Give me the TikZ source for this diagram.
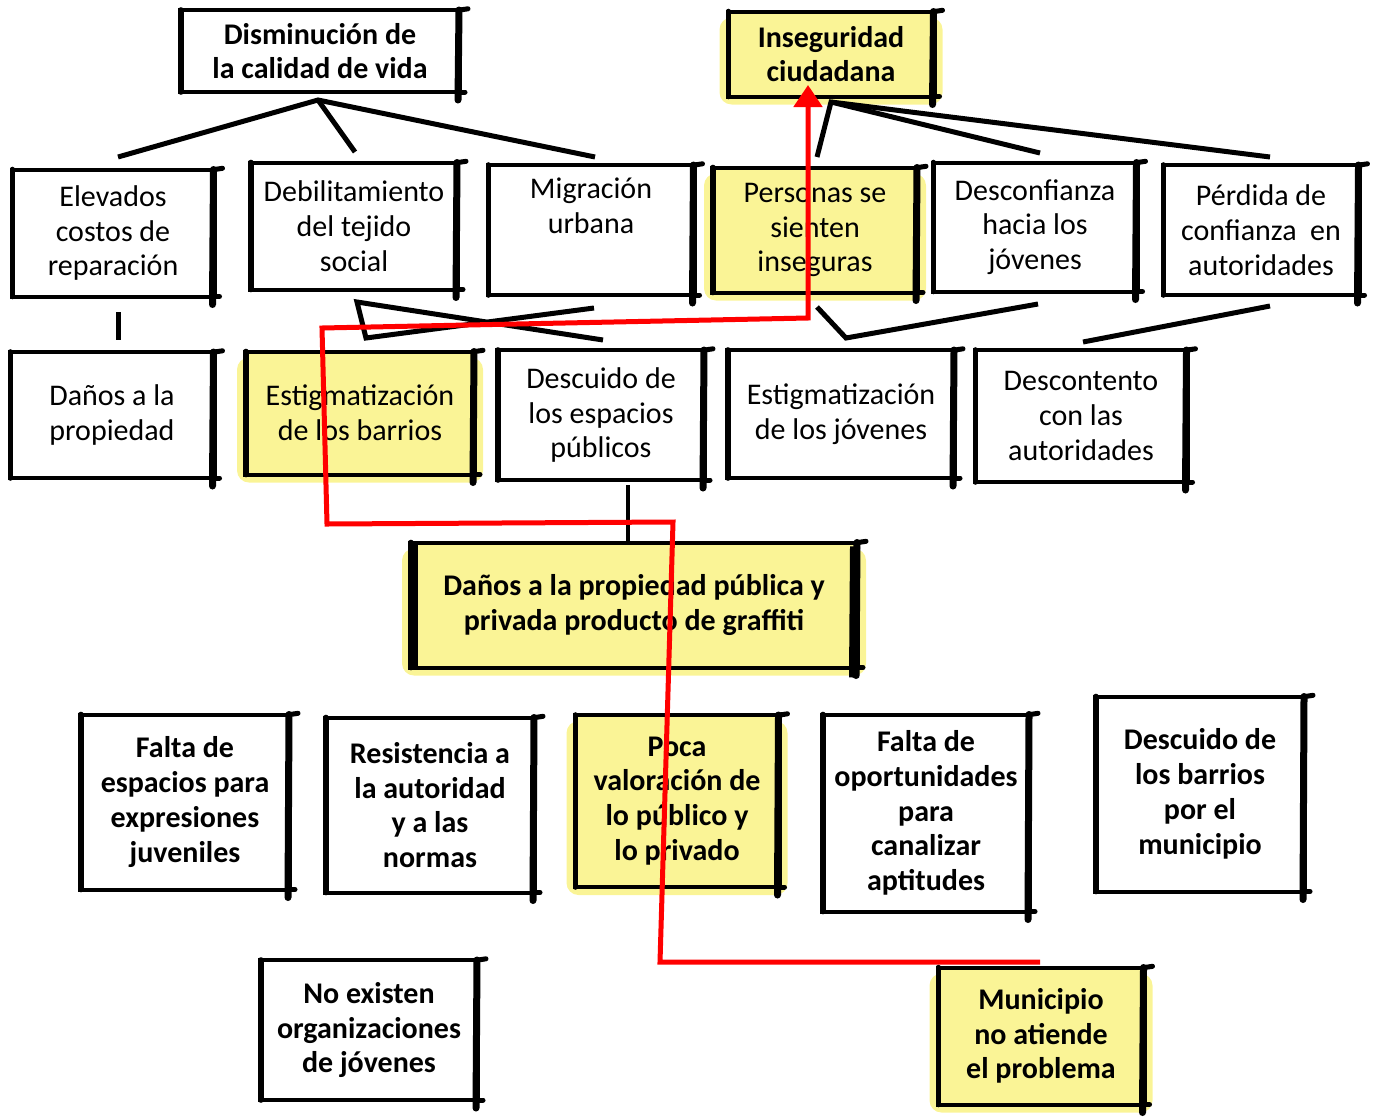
\documentclass[tikz,border=0pt]{standalone}
\usepackage{fontspec}
\setmainfont{Carlito}
\usetikzlibrary{arrows.meta,backgrounds}
\definecolor{hlyellow}{RGB}{250,244,150}
\definecolor{redpath}{RGB}{255,0,0}

\begin{document}
\begin{tikzpicture}[x=0.5pt,y=-0.5pt,>=Latex]
  \tikzstyle{box}=[draw,line width=2pt,align=center,inner sep=0pt,outer sep=0pt,font=\fontsize{15}{17.4}\selectfont]
  \tikzstyle{boldbox}=[box,font=\fontsize{15}{17.4}\selectfont\bfseries]
  \tikzset{boxsize/.style 2 args={minimum width=#1*0.5pt,minimum height=#2*0.5pt}}
  \tikzstyle{marked}=[fill=hlyellow]
  \tikzstyle{link}=[line width=2.5pt]
  \tikzstyle{route}=[draw=redpath,line width=2.5pt]
  \useasboundingbox (0,0) rectangle (1384,1119);
  % top effects
  \node[boldbox,boxsize={280}{82}] (dism) at (320,51) {Disminución de\\la calidad de vida};
  \node[boldbox,marked,boxsize={207}{85}] (inseg) at (831,54) {Inseguridad\\ciudadana};
  % second row
  \node[box,boxsize={203}{127}] (elev) at (113,233) {Elevados\\costos de\\reparación};
  \node[box,boxsize={208}{127}] (debil) at (354,226) {Debilitamiento\\del tejido\\social};
  \node[box,boxsize={207}{130}] (migra) at (591,230) {Migración\\urbana\\[7pt]\mbox{}};
  \node[box,marked,boxsize={206}{125}] (perso) at (815,230) {Personas se\\sienten\\inseguras};
  \node[box,boxsize={205}{129}] (desco) at (1035,227) {Desconfianza\\hacia los\\jóvenes};
  \node[box,boxsize={197}{130}] (perdi) at (1261,230) {Pérdida de\\confianza~ en\\autoridades};
  % third row
  \node[box,boxsize={205}{126}] (danos) at (112,415) {Daños a la\\propiedad};
  \node[box,marked,boxsize={230}{123}] (estb) at (360,413) {Estigmatización\\de los barrios};
  \node[box,boxsize={208}{130}] (descu) at (601,415) {Descuido de\\los espacios\\públicos};
  \node[box,boxsize={228}{128}] (estj) at (841,414) {Estigmatización\\de los jóvenes};
  \node[box,boxsize={213}{132}] (desct) at (1081,416) {Descontento\\con las\\autoridades};
  % central problem
  \node[boldbox,marked,boxsize={448}{125}] (graf) at (634,605) {Daños a la propiedad pública y\\privada producto de graffiti};
  % causes
  \node[boldbox,boxsize={210}{175}] (fesp) at (185,802) {Falta de\\espacios para\\expresiones\\juveniles};
  \node[boldbox,boxsize={210}{175}] (resi) at (430,805) {Resistencia a\\la autoridad\\y a las\\normas};
  \node[boldbox,marked,boxsize={205}{172}] (poca) at (677,801) {Poca\\valoración de\\lo público y\\lo privado};
  \node[boldbox,boxsize={208}{197}] (fopo) at (926,813) {Falta de\\oportunidades\\para\\canalizar\\aptitudes};
  \node[boldbox,boxsize={210}{195}] (dbar) at (1200,794) {Descuido de\\los barrios\\por el\\municipio};
  \node[boldbox,boxsize={218}{140}] (noex) at (369,1030) {No existen\\organizaciones\\de jóvenes};
  \node[boldbox,marked,boxsize={207}{137}] (muni) at (1041,1036) {Municipio\\no atiende\\el problema};

  % highlighter marks behind the yellow boxes
  \begin{scope}[on background layer]
    \foreach \n in {inseg,perso,estb,graf,poca,muni}
      \fill[hlyellow,rounded corners=6pt] ([xshift=-4pt,yshift=-3pt]\n.north west) rectangle ([xshift=4pt,yshift=-4pt]\n.south east);
  \end{scope}

  % sketchy strokes on the box edges
  \foreach \n in {dism,inseg,elev,debil,migra,perso,desco,perdi,danos,estb,descu,estj,desct,graf,fesp,resi,poca,fopo,dbar,noex,muni} {
    \draw[line width=3.5pt,line cap=round] ([xshift=-0.5pt]\n.north east) -- ([xshift=-1pt,yshift=-4pt]\n.south east);
    \draw[line width=2.8pt,line cap=round] ([xshift=0.4pt]\n.north west) -- ([xshift=0.4pt]\n.south west);
    \draw[line width=2.5pt,line cap=round] (\n.north east) -- ++(4pt,0.6pt);
    \draw[line width=2.5pt,line cap=round] (\n.south east) -- ++(2.5pt,0);
  }
  \draw[line width=5pt] ([xshift=1.5pt]graf.north west) -- ([xshift=1.5pt]graf.south west);
  \draw[line width=5pt] ([xshift=-1.5pt,yshift=-2pt]graf.north east) -- ([xshift=-2pt,yshift=-5pt]graf.south east);

  % connectors
  \coordinate (dhub) at (318,100);
  \coordinate (d1) at (118,157);
  \coordinate (d2) at (355,152);
  \coordinate (d3) at (595,157);
  \draw[link] (d1) -- (dhub) -- (d3);
  \draw[link] (dhub) -- (d2);
  \coordinate (ihub) at (831,102);
  \coordinate (i1) at (817,157);
  \coordinate (i2) at (1040,153);
  \coordinate (i3) at (1270,157);
  \draw[link] (i1) -- (ihub) -- (i3);
  \draw[link] (ihub) -- (i2);
  \coordinate (e1) at (118,312);
  \coordinate (e2) at (118,340);
  \draw[link] (e1) -- (e2);
  \coordinate (b1) at (357,302);
  \coordinate (b2) at (603,340);
  \coordinate (b3) at (366,338);
  \coordinate (b4) at (594,308);
  \draw[link] (b2) -- (b1) -- (b3) -- (b4);
  \coordinate (p1) at (817,307);
  \coordinate (p2) at (846,338);
  \coordinate (p3) at (1038,304);
  \draw[link] (p1) -- (p2) -- (p3);
  \coordinate (q1) at (1083,342);
  \coordinate (q2) at (1270,306);
  \draw[link] (q1) -- (q2);
  \coordinate (g1) at (628,485);
  \draw[line width=2pt] (g1) -- (graf.north -| g1);

  % red route
  \coordinate (r0) at (1040,962);
  \coordinate (r1) at (660,962);
  \coordinate (r2) at (673,522);
  \coordinate (r3) at (327,524);
  \coordinate (r4) at (322,328);
  \coordinate (r5) at (808,318);
  \coordinate (r6) at (808,85);
  \draw[route,-{Triangle[length=11pt,width=14pt]}] (r0) -- (r1) -- (r2) -- (r3) -- (r4) -- (r5) -- (r6);
\end{tikzpicture}
\end{document}
